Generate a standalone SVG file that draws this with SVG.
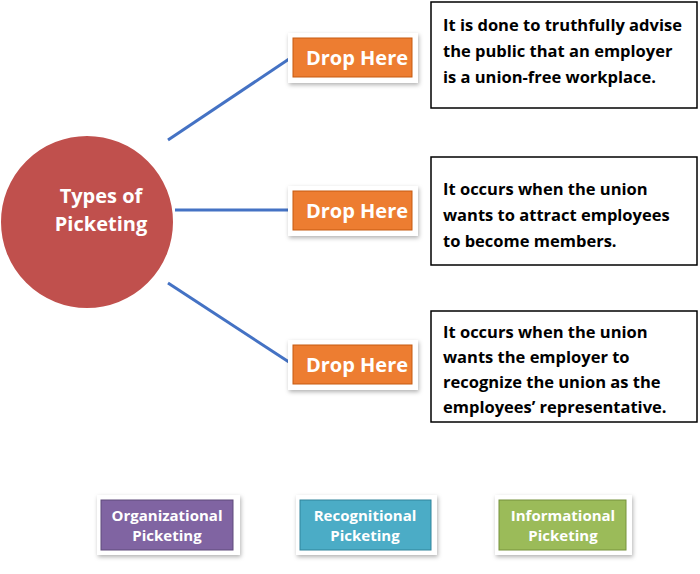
<svg xmlns="http://www.w3.org/2000/svg" width="700" height="574" viewBox="0 0 700 574">
<defs>
<filter id="sh" x="-20%" y="-20%" width="140%" height="160%"><feDropShadow dx="1" dy="2" stdDeviation="2" flood-color="#000" flood-opacity="0.3"/></filter>
<style>
text{font-family:"Open Sans","Liberation Sans",sans-serif;font-weight:bold}
.frame{fill:#fff;filter:url(#sh)}
.lbl{fill:#fff;font-size:20px;text-anchor:middle}
.sm{fill:#fff;font-size:15px;text-anchor:middle}
.box{fill:#fff;stroke:#000;stroke-width:1.5}
.bt{fill:#000;font-size:16.5px}
.con{stroke:#4472c4;stroke-width:3;fill:none}
</style>
</defs>
<rect width="700" height="574" fill="#fff"/>
<g id="connectors">
<line class="con" x1="168" y1="140" x2="292" y2="57"/>
<line class="con" x1="175" y1="210" x2="292" y2="210"/>
<line class="con" x1="168" y1="283" x2="292" y2="364"/>
</g>
<g id="center">
<circle cx="87" cy="222" r="87" fill="#c0504d" stroke="#fff" stroke-width="2"/>
<text class="lbl" x="101" y="203">Types of</text>
<text class="lbl" x="101" y="231">Picketing</text>
</g>
<g id="drop1"><rect class="frame" x="288" y="33" width="130" height="50"/><rect x="293" y="38" width="119" height="39" fill="#ed7d31" stroke="#c55a11"/><text class="lbl" x="357" y="65">Drop Here</text></g>
<g id="drop2"><rect class="frame" x="288" y="186" width="130" height="50"/><rect x="293" y="191" width="119" height="39" fill="#ed7d31" stroke="#c55a11"/><text class="lbl" x="357" y="218">Drop Here</text></g>
<g id="drop3"><rect class="frame" x="288" y="340" width="130" height="50"/><rect x="293" y="345" width="119" height="39" fill="#ed7d31" stroke="#c55a11"/><text class="lbl" x="357" y="372">Drop Here</text></g>
<g id="desc1"><rect class="box" x="431" y="2" width="266" height="106"/>
<text class="bt" x="443" y="31">It is done to truthfully advise</text><text class="bt" x="443" y="57">the public that an employer</text><text class="bt" x="443" y="83">is a union-free workplace.</text></g>
<g id="desc2"><rect class="box" x="431" y="157" width="266" height="108"/>
<text class="bt" x="443" y="195">It occurs when the union</text><text class="bt" x="443" y="221">wants to attract employees</text><text class="bt" x="443" y="247">to become members.</text></g>
<g id="desc3"><rect class="box" x="431" y="311" width="266" height="111"/>
<text class="bt" x="443" y="338">It occurs when the union</text><text class="bt" x="443" y="363">wants the employer to</text><text class="bt" x="443" y="388">recognize the union as the</text><text class="bt" x="443" y="413">employees’ representative.</text></g>
<g id="org"><rect class="frame" x="97" y="495" width="143" height="60"/><rect x="101" y="500" width="132" height="50" fill="#8064a2" stroke="#5f4a7a"/><text class="sm" x="167" y="521">Organizational</text><text class="sm" x="167" y="541">Picketing</text></g>
<g id="rec"><rect class="frame" x="296" y="495" width="141" height="60"/><rect x="300" y="500" width="131" height="50" fill="#4bacc6" stroke="#31849b"/><text class="sm" x="365" y="521">Recognitional</text><text class="sm" x="365" y="541">Picketing</text></g>
<g id="inf"><rect class="frame" x="495" y="495" width="137" height="60"/><rect x="499" y="500" width="127" height="50" fill="#9bbb59" stroke="#76923c"/><text class="sm" x="563" y="521">Informational</text><text class="sm" x="563" y="541">Picketing</text></g>
</svg>
